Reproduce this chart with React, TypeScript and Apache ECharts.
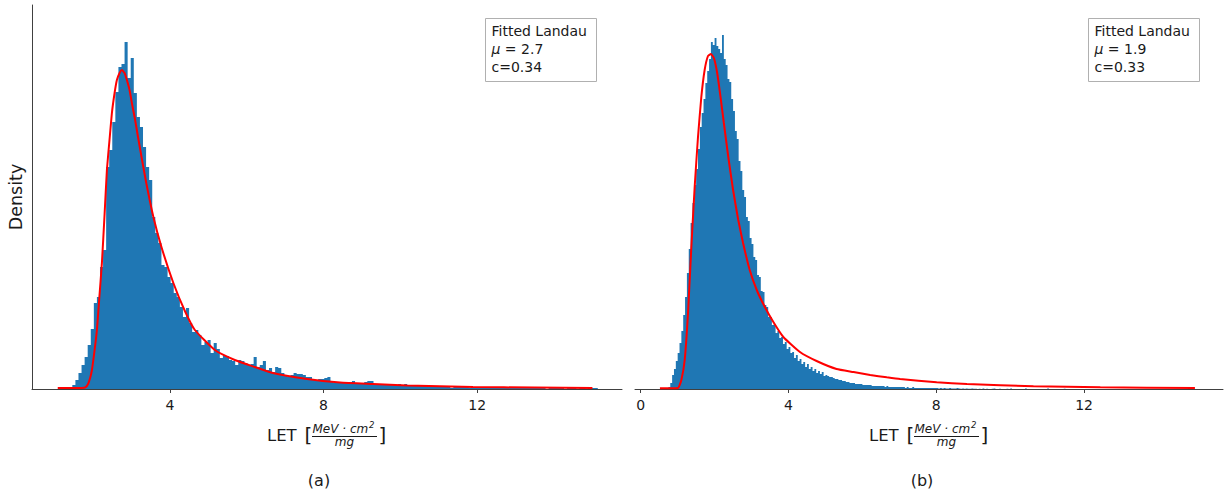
import React, { useEffect, useRef } from "react";
import * as echarts from "echarts";

// ---------- data (relative density, no y scale is shown) ----------
const Y_MAX = 384;

// panel (a): histogram, bins of 0.08 LET starting at 0.9
const binStartA = 0.9;
const binWidthA = 0.08;
const countsA = [
  0, 0, 0, 0, 0.5, 1.3, 2, 4, 9, 16,
  24, 32, 44, 60, 86, 92, 122, 139, 222, 239,
  267, 297, 322, 325, 347, 311, 331, 296, 272, 262,
  242, 222, 209, 172, 156, 146, 124, 122, 112, 106,
  96, 92, 82, 72, 81, 66, 57, 59, 54, 44,
  47, 49, 36, 46, 40, 31, 34, 33, 29, 28,
  24, 29, 28, 26, 24, 25, 32, 22, 24, 28,
  19, 21, 17, 22, 21, 16, 14, 12, 14, 16,
  15, 15, 14, 12, 12, 10, 9, 10, 10, 11,
  12, 7, 6, 7, 7, 6, 6, 7, 8, 6,
  6, 5, 7, 8, 8, 5, 5, 4, 5, 5,
  5, 4, 4, 5, 4, 5, 3, 4, 3, 3,
  4, 3, 3, 2,
  2, 3, 2, 2, 3, 2, 1, 2, 2, 3,
  2, 2, 1, 2, 2, 1, 2, 2, 1, 1,
  2, 1, 2, 1, 1, 2, 1, 1, 1, 2,
  1, 1, 1, 1, 2, 1, 1, 0, 1, 1,
  1, 1, 1, 0, 1, 1, 1, 0, 1, 1,
  0, 1, 1, 1,
];

// panel (a): fitted Landau curve
const fitXA = [1.08, 1.4, 1.7, 1.8, 1.87, 1.93, 1.97, 2.03, 2.1, 2.16, 2.23, 2.3, 2.36, 2.43, 2.49, 2.56, 2.62, 2.69, 2.75, 2.82, 2.88, 2.95, 3.01, 3.09, 3.17, 3.28, 3.39, 3.57, 3.78, 4.09, 4.39, 4.65, 5.17, 5.69, 6.21, 6.68, 7.57, 8.43, 9.29, 10.17, 11.89, 13.5, 15.0];
const fitYA = [1, 1, 1.1, 1.6, 5, 12, 19, 36, 59, 90, 126, 175, 219, 250, 276, 296, 309, 316, 319, 316, 309, 299, 286, 270, 252, 228, 205, 172, 142, 106, 78, 59, 39, 29, 22, 16, 10, 6.5, 5, 3.5, 2, 1.4, 1];

// panel (b): histogram, bins of 0.05 LET starting at 0.5
const binStartB = 0.5;
const binWidthB = 0.05;
const countsB = [
  0, 0, 0, 1, 1, 2, 6, 14, 20, 28,
  36, 46, 58, 74, 92, 116, 140, 166, 186, 204,
  220, 240, 262, 276, 290, 306, 318, 330, 347, 344,
  351, 343, 340, 336, 354, 330, 324, 310, 307, 290,
  278, 258, 250, 228, 218, 199, 192, 172, 168, 151,
  145, 132, 129, 114, 112, 98, 97, 84, 82, 72,
  72, 64, 65, 56, 58, 51, 52, 45, 47, 40,
  42, 36, 37, 31, 34, 28, 30, 25, 27, 22,
  25, 20, 22, 18, 20, 16, 18, 15, 17, 13,
  14, 13, 12, 12, 11, 10, 10, 9, 9, 8,
  8, 7, 7, 6, 6, 6, 5, 5, 5, 5,
  4, 4, 4, 4, 4, 3, 3, 3, 3, 3,
  3, 3, 2, 3, 2, 2, 2, 2, 2, 2,
  2, 2, 2, 1, 2, 1, 1, 2, 1, 1,
  1, 1, 1, 1, 1, 1, 1, 1, 1, 1,
  1, 0.5, 1, 0.5, 1, 0.5, 0.5, 1, 0.5, 0.5,
  0.5, 1, 0.5, 0.3, 0.5, 0.3, 0.5, 0.3, 0.3, 0.5,
  0.3, 0.3, 0, 0.3, 0, 0.5, 0, 0.3, 0, 0,
  0.3, 0.5, 0, 0, 0.3, 0, 0, 0, 0.3, 0,
  0.5, 0, 0, 0, 0, 0, 0, 0, 0.5, 0,
  0, 0, 0, 0, 0, 0, 0, 0, 0, 0,
  0.5, 0, 0, 0, 0, 0, 0, 0, 0, 0.3,
];

// panel (b): fitted Landau curve
const fitXB = [0.52, 0.8, 1.01, 1.1, 1.19, 1.28, 1.37, 1.46, 1.55, 1.64, 1.73, 1.82, 1.9, 1.98, 2.07, 2.16, 2.25, 2.37, 2.5, 2.64, 2.77, 2.95, 3.14, 3.36, 3.59, 3.86, 4.31, 4.76, 5.3, 5.76, 6.21, 6.66, 7.02, 8.01, 8.83, 10.63, 12.44, 15.0];
const fitYB = [0.8, 0.8, 1, 9, 29, 76, 142, 202, 252, 292, 319, 333, 335, 331, 316, 292, 266, 232, 199, 169, 146, 119, 99, 82, 67, 52, 37, 28, 20, 17, 14, 11.7, 10, 6.7, 5, 2.7, 1.7, 1];

const ticksA = [4, 8, 12];
const ticksB = [0, 4, 8, 12];
const xRangeA = [0.41, 15.77];
const xRangeB = [-0.155, 15.76];

const legendA = { title: "Fitted Landau", mu: "2.7", c: "0.34" };
const legendB = { title: "Fitted Landau", mu: "1.9", c: "0.33" };
const panelTags = ["(a)", "(b)"];

// ---------- styling ----------
const FONT = "'DejaVu Sans', sans-serif";
const AXIS_COLOR = "#404040";
const TEXT_COLOR = "#1a1a1a";
const BAR_COLOR = "#1f77b4";
const FIT_COLOR = "#ff0000";

function histSeries(idx: number, start: number, width: number, counts: number[]) {
  return {
    type: "custom",
    xAxisIndex: idx,
    yAxisIndex: idx,
    silent: true,
    clip: true,
    z: 2,
    data: [[start, 0]],
    renderItem: (_params: any, api: any) => {
      const pts: number[][] = [];
      pts.push(api.coord([start, 0]));
      counts.forEach((c, i) => {
        const x0 = start + i * width;
        const x1 = x0 + width;
        pts.push(api.coord([x0, c]));
        pts.push(api.coord([x1, c]));
      });
      pts.push(api.coord([start + counts.length * width, 0]));
      return {
        type: "polygon",
        shape: { points: pts },
        style: { fill: BAR_COLOR, stroke: null },
      };
    },
  };
}

function fitSeries(idx: number, xs: number[], ys: number[]) {
  return {
    type: "line",
    xAxisIndex: idx,
    yAxisIndex: idx,
    silent: true,
    z: 3,
    symbol: "none",
    showSymbol: false,
    smooth: 0.15,
    data: xs.map((x, i) => [x, ys[i]]),
    lineStyle: { color: FIT_COLOR, width: 2 },
  };
}

function xAxisDef(idx: number, range: number[], ticks: number[]) {
  return {
    type: "value",
    gridIndex: idx,
    min: range[0],
    max: range[1],
    axisLine: { show: true, onZero: false, lineStyle: { color: AXIS_COLOR, width: 1 } },
    axisTick: { show: true, customValues: ticks, length: 4, lineStyle: { color: AXIS_COLOR, width: 1 } },
    axisLabel: { show: true, customValues: ticks, fontSize: 14, color: TEXT_COLOR, fontFamily: FONT, margin: 9 },
    splitLine: { show: false },
  };
}

function legendBox(x: number, y: number, lg: { title: string; mu: string; c: string }) {
  const base = { fontSize: 14, fontFamily: FONT, fill: TEXT_COLOR, verticalAlign: "middle", align: "left" };
  return {
    type: "group",
    x,
    y,
    children: [
      { type: "rect", shape: { x: 0, y: 0, width: 111, height: 63 }, style: { fill: "#ffffff", stroke: "#b0b0b0", lineWidth: 1 } },
      { type: "text", x: 6, y: 12.5, style: { ...base, text: lg.title } },
      {
        type: "text",
        x: 6,
        y: 30.8,
        style: {
          ...base,
          text: "{i|μ} = " + lg.mu,
          rich: { i: { fontStyle: "italic", fontSize: 14, fontFamily: FONT, fill: TEXT_COLOR } },
        },
      },
      { type: "text", x: 6, y: 48.8, style: { ...base, text: "c=" + lg.c } },
    ],
  };
}

function xLabel(cx: number) {
  const it = { fontFamily: FONT, fontStyle: "italic", fill: TEXT_COLOR };
  return {
    type: "group",
    x: cx,
    y: 0,
    children: [
      { type: "text", x: -60, y: 435, style: { text: "LET", fontSize: 16.5, fontFamily: FONT, fill: TEXT_COLOR, align: "left", verticalAlign: "middle" } },
      { type: "text", x: -22.5, y: 435, style: { text: "[", fontSize: 20, fontFamily: FONT, fill: TEXT_COLOR, align: "left", verticalAlign: "middle" } },
      { type: "text", x: -14.5, y: 428.5, style: { ...it, text: "MeV · cm", fontSize: 12, align: "left", verticalAlign: "middle" } },
      { type: "text", x: 42, y: 424.5, style: { ...it, text: "2", fontSize: 8.5, align: "left", verticalAlign: "middle" } },
      { type: "line", shape: { x1: -15, y1: 436.5, x2: 50, y2: 436.5 }, style: { stroke: TEXT_COLOR, lineWidth: 1 } },
      { type: "text", x: 17.5, y: 442, style: { ...it, text: "mg", fontSize: 12, align: "center", verticalAlign: "middle" } },
      { type: "text", x: 51.5, y: 435, style: { text: "]", fontSize: 20, fontFamily: FONT, fill: TEXT_COLOR, align: "left", verticalAlign: "middle" } },
    ],
  };
}

const option: any = {
  animation: false,
  backgroundColor: "#ffffff",
  grid: [
    { left: 32, top: 5, width: 590, height: 384, containLabel: false, outerBoundsMode: "none" },
    { left: 635, top: 5, width: 588, height: 384, containLabel: false, outerBoundsMode: "none" },
  ],
  xAxis: [xAxisDef(0, xRangeA, ticksA), xAxisDef(1, xRangeB, ticksB)],
  yAxis: [
    {
      type: "value",
      gridIndex: 0,
      min: 0,
      max: Y_MAX,
      axisLine: { show: true, lineStyle: { color: AXIS_COLOR, width: 1 } },
      axisTick: { show: false },
      axisLabel: { show: false },
      splitLine: { show: false },
    },
    { type: "value", gridIndex: 1, min: 0, max: Y_MAX, show: false, splitLine: { show: false } },
  ],
  series: [
    histSeries(0, binStartA, binWidthA, countsA),
    fitSeries(0, fitXA, fitYA),
    histSeries(1, binStartB, binWidthB, countsB),
    fitSeries(1, fitXB, fitYB),
  ],
  graphic: [
    legendBox(485.5, 18.5, legendA),
    legendBox(1088.5, 18.5, legendB),
    xLabel(327),
    xLabel(929),
    {
      type: "text",
      x: 16,
      y: 197,
      rotation: Math.PI / 2,
      style: { text: "Density", fontSize: 17.5, fontFamily: FONT, fill: TEXT_COLOR, align: "center", verticalAlign: "middle" },
    },
    { type: "text", x: 319, y: 480, style: { text: panelTags[0], fontSize: 16, fontFamily: FONT, fill: TEXT_COLOR, align: "center", verticalAlign: "middle" } },
    { type: "text", x: 922, y: 480, style: { text: panelTags[1], fontSize: 16, fontFamily: FONT, fill: TEXT_COLOR, align: "center", verticalAlign: "middle" } },
  ],
};

export default function App() {
  const ref = useRef<HTMLDivElement>(null);
  useEffect(() => {
    const chart = echarts.init(ref.current as HTMLDivElement, null, { renderer: "svg" });
    chart.setOption(option);
    return () => chart.dispose();
  }, []);
  return (
    <div
      ref={ref}
      style={{ position: "fixed", left: 0, top: 0, width: 1231, height: 494, background: "#ffffff" }}
    />
  );
}
